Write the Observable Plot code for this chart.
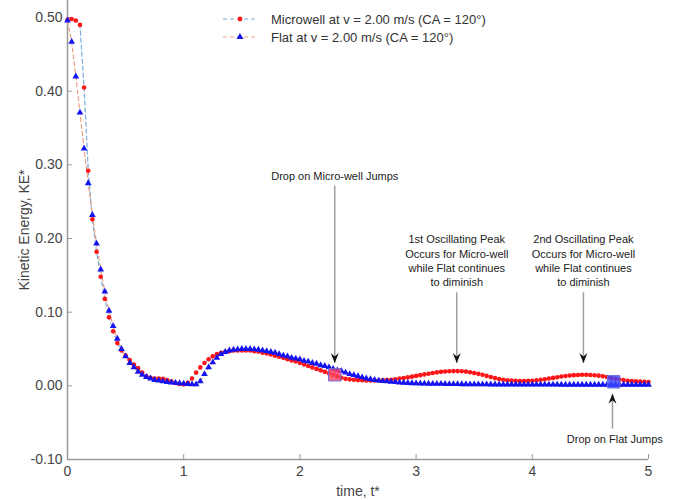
<!DOCTYPE html>
<html><head><meta charset="utf-8">
<script src="https://cdn.jsdelivr.net/npm/d3@7"></script>
<script src="https://cdn.jsdelivr.net/npm/@observablehq/plot@0.6"></script>
<style>
body{margin:0;background:#fff;font-family:Arial,"Liberation Sans",sans-serif;}
#wrap{position:relative;width:675px;height:500px;}
#legend{position:absolute;left:222px;top:10px;font-size:13px;color:#333;}
#legend .row{display:flex;align-items:center;height:18px;}
#legend svg{margin-right:15px;}
</style></head><body><div id="wrap"><div id="chart"></div><div id="legend"></div></div>
<script>
// sample spacing of the simulation output (time, t*)
const dt = 1 / 28;
const seriesNames = ["Microwell at v = 2.00 m/s (CA = 120°)", "Flat at v = 2.00 m/s (CA = 120°)"];
const microKE = [0.497,0.498,0.496,0.490,0.405,0.292,0.226,0.182,0.148,0.118,
0.093,0.074,0.058,0.048,0.041,0.035,0.029,0.024,0.018,0.013,
0.011,0.010,0.010,0.0095,0.008,0.006,0.004,0.0025,0.002,0.004,
0.010,0.018,0.025,0.031,0.036,0.040,0.043,0.045,0.046,0.047,
0.048,0.048,0.048,0.048,0.048,0.047,0.0465,0.045,0.044,0.0425,
0.041,0.0395,0.038,0.036,0.0345,0.033,0.031,0.029,0.027,0.025,
0.023,0.021,0.019,0.017,0.015,0.013,0.011,0.0095,0.0088,0.0082,
0.0078,0.0075,0.0073,0.0072,0.0072,0.0073,0.0075,0.0078,0.0083,0.009,
0.0098,0.0106,0.0115,0.0125,0.0135,0.0145,0.0155,0.0165,0.0175,0.0183,
0.019,0.0195,0.0198,0.020,0.020,0.0198,0.0193,0.0185,0.0175,0.0163,
0.015,0.0135,0.012,0.0105,0.0093,0.0083,0.0076,0.0071,0.0068,0.0066,
0.0066,0.0067,0.007,0.0075,0.0082,0.009,0.0099,0.0108,0.0117,0.0126,
0.0134,0.014,0.0145,0.0148,0.015,0.015,0.0148,0.0144,0.0138,0.013,
0.012,0.0108,0.0096,0.0086,0.0078,0.0070,0.0064,0.006,0.0057,0.0055,
0.0053];
const flatKE = [0.496,0.467,0.420,0.371,0.322,0.275,0.232,0.193,0.158,0.128,
0.102,0.081,0.064,0.050,0.040,0.031,0.025,0.019,0.015,0.012,
0.010,0.008,0.007,0.006,0.005,0.0045,0.004,0.0035,0.003,0.0025,
0.002,0.002,0.006,0.016,0.025,0.032,0.038,0.043,0.046,0.048,
0.049,0.0495,0.050,0.050,0.050,0.0495,0.049,0.048,0.047,0.046,
0.045,0.043,0.041,0.040,0.038,0.037,0.036,0.034,0.033,0.031,
0.030,0.028,0.027,0.025,0.023,0.021,0.020,0.018,0.016,0.0145,
0.013,0.0115,0.010,0.009,0.008,0.0072,0.0065,0.006,0.0055,0.005,
0.0046,0.0042,0.0039,0.0036,0.0034,0.0032,0.003,0.0029,0.0028,0.0027,
0.0026,0.0025,0.0024,0.0023,0.0023,0.0022,0.0022,0.0021,0.0021,0.002,
0.002,0.002,0.0019,0.0019,0.0019,0.0018,0.0018,0.0018,0.0018,0.0017,
0.0017,0.0017,0.0017,0.0016,0.0016,0.0016,0.0016,0.0016,0.0016,0.0015,
0.0015,0.0015,0.0015,0.0015,0.0015,0.0015,0.0015,0.0015,0.0015,0.0015,
0.0015,0.0015,0.0015,0.0015,0.0015,0.0015,0.0015,0.0015,0.0015,0.0015,
0.0015];
const xTicks = [0, 1, 2, 3, 4, 5];
const yTicks = [-0.1, 0, 0.1, 0.2, 0.3, 0.4, 0.5];
const xDomain = [0, 5];
const yDomain = [-0.1, 0.5231];
// highlighted "jump" markers
const jumpT = [2.3, 4.7];
const jumpKE = [0.015, 0.0055];
// annotations
const annoLabels = ["Drop on Micro-well Jumps",
  "1st Oscillating Peak\nOccurs for Micro-well\nwhile Flat continues\nto diminish",
  "2nd Oscillating Peak\nOccurs for Micro-well\nwhile Flat continues\nto diminish",
  "Drop on Flat Jumps"];
const annoT = [2.3, 3.35, 4.44, 4.71];
const annoTextKE = [0.2855, 0.1705, 0.1705, -0.0716];
const arrowT = [2.3, 3.35, 4.44, 4.69];
const arrowTailKE = [0.272, 0.127, 0.127, -0.058];
const arrowTipKE = [0.031, 0.031, 0.031, -0.0108];
const arrowRot = [0, 0, 0, 180];

const colors = {microDot: "#ff1515", microLine: "#78aee0", flatDot: "#1414f0", flatLine: "#eba184", axis: "#9a9a9a"};

const micro = microKE.map((v, i) => ({t: i * dt, ke: v}));
const flat = flatKE.map((v, i) => ({t: i * dt, ke: v}));
const jumps = jumpT.map((t, i) => ({t, ke: jumpKE[i], k: i}));
const annos = annoLabels.map((s, i) => ({label: s, t: annoT[i], y: annoTextKE[i]}));
const arrows = arrowT.map((t, i) => ({t, tail: arrowTailKE[i], tip: arrowTipKE[i], rot: arrowRot[i]}));

const arrowHead = {draw(ctx, size) {
  const k = Math.sqrt(size / Math.PI);
  ctx.moveTo(0, 0); ctx.lineTo(-k, -2.5 * k); ctx.lineTo(0, -1.6 * k); ctx.lineTo(k, -2.5 * k); ctx.closePath();
}};

const chart = Plot.plot({
  width: 675, height: 500,
  marginLeft: 67, marginRight: 27, marginTop: 0, marginBottom: 41,
  style: {fontFamily: "Arial, 'Liberation Sans', sans-serif", background: "white", color: "#444", overflow: "visible"},
  x: {domain: xDomain},
  y: {domain: yDomain},
  marks: [
    Plot.ruleX([xDomain[0]], {y1: yDomain[0], y2: yDomain[1], stroke: colors.axis, strokeWidth: 1.5}),
    Plot.ruleY([yDomain[0]], {x1: xDomain[0], x2: xDomain[1], stroke: colors.axis, strokeWidth: 1.5}),
    Plot.axisX({ticks: xTicks.slice(1), tickSize: -5, fill: "none", stroke: colors.axis}),
    Plot.axisX({ticks: xTicks, tickSize: 0, tickPadding: 7, fontSize: 14, fill: "#444", tickFormat: d => String(d),
      label: "time, t*", labelAnchor: "center", labelOffset: 36, labelArrow: "none"}),
    Plot.axisY({ticks: yTicks.slice(1), tickSize: -5, fill: "none", stroke: colors.axis}),
    Plot.axisY({ticks: yTicks, tickSize: 0, tickPadding: 5, fontSize: 14, fill: "#444", tickFormat: d => d.toFixed(2),
      label: "Kinetic Energy, KE*", labelAnchor: "center", labelOffset: 48, labelArrow: "none"}),
    Plot.line(micro, {x: "t", y: "ke", stroke: colors.microLine, strokeWidth: 1.2, strokeDasharray: "4,3"}),
    Plot.line(flat, {x: "t", y: "ke", stroke: colors.flatLine, strokeWidth: 1.2, strokeDasharray: "4,3"}),
    Plot.dot(micro, {x: "t", y: "ke", r: 2.3, fill: colors.microDot, stroke: null}),
    Plot.dot(flat, {x: "t", y: "ke", r: 2.5, symbol: "triangle", fill: colors.flatDot, stroke: null}),
    Plot.dot(jumps, {x: "t", y: "ke", r: 7, symbol: "square", fill: d => d.k === 0 ? "#ff4060" : "#3a46ff",
      fillOpacity: 0.8, stroke: "#6a6ee0", strokeWidth: 1}),
    Plot.link(arrows, {x1: "t", y1: "tail", x2: "t", y2: "tip", stroke: "#a0a0a0", strokeWidth: 1.5}),
    Plot.dot(arrows, {x: "t", y: "tip", symbol: arrowHead, r: 4, fill: "#111", stroke: null, rotate: "rot"}),
    Plot.text(annos, {x: "t", y: "y", text: "label", fontSize: 11, lineHeight: 1.3, fill: "#222"})
  ]
});
document.getElementById("chart").append(chart);

// legend
const legend = d3.select("#legend");
const legendSpec = [
  {name: seriesNames[0], line: colors.microLine, dot: colors.microDot, sym: d3.symbolCircle, size: 18},
  {name: seriesNames[1], line: colors.flatLine, dot: colors.flatDot, sym: d3.symbolTriangle, size: 22}
];
for (const s of legendSpec) {
  const row = legend.append("div").attr("class", "row");
  const svg = row.append("svg").attr("width", 34).attr("height", 12);
  svg.append("line").attr("x1", 1).attr("x2", 33).attr("y1", 6).attr("y2", 6)
    .attr("stroke", s.line).attr("stroke-width", 1.2).attr("stroke-dasharray", "4,3");
  svg.append("path").attr("d", d3.symbol(s.sym, s.size)()).attr("transform", "translate(18,6)").attr("fill", s.dot);
  row.append("span").text(s.name);
}
</script></body></html>
